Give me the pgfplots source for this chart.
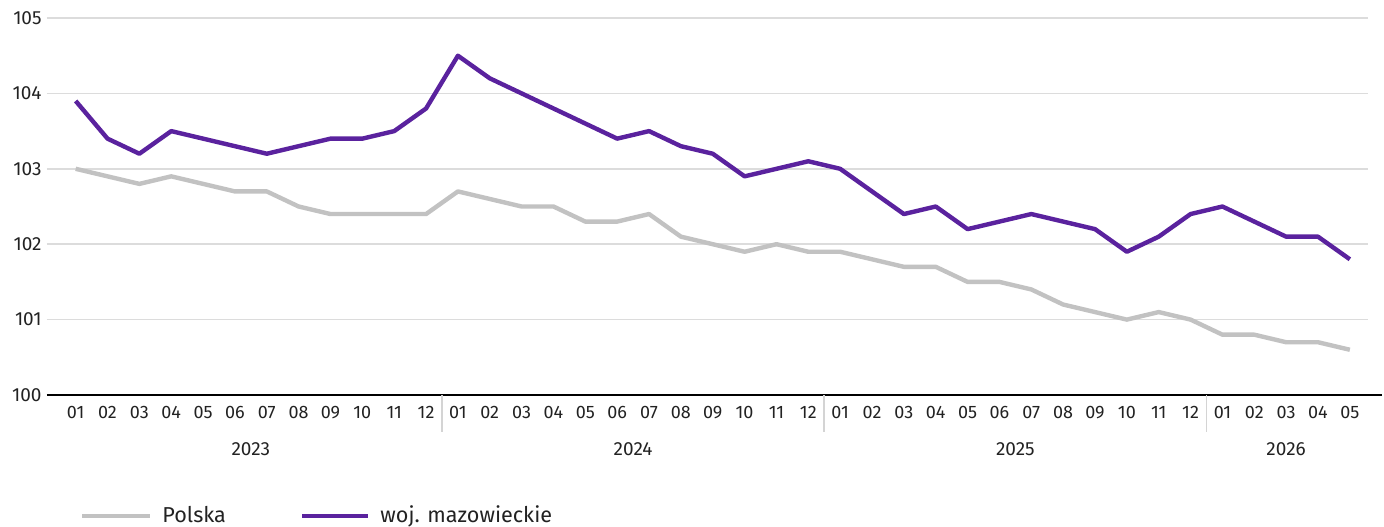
\documentclass[border=0pt]{standalone}
\usepackage{fontspec}
\setmainfont{Fira Sans}
\usepackage{pgfplots}
\usepackage{pgfplotstable}
\pgfplotsset{compat=1.18}
\definecolor{mazow}{HTML}{5A229E}
\definecolor{polska}{HTML}{C2C2C2}
\definecolor{gridc}{HTML}{DCDCDC}
\definecolor{sepc}{HTML}{D4D4D4}
\definecolor{txt}{HTML}{222222}

% idx 0 = 2023-01 ... 40 = 2026-05
\pgfplotstableread{
idx pl maz
0 103.0 103.9
1 102.9 103.4
2 102.8 103.2
3 102.9 103.5
4 102.8 103.4
5 102.7 103.3
6 102.7 103.2
7 102.5 103.3
8 102.4 103.4
9 102.4 103.4
10 102.4 103.5
11 102.4 103.8
12 102.7 104.5
13 102.6 104.2
14 102.5 104.0
15 102.5 103.8
16 102.3 103.6
17 102.3 103.4
18 102.4 103.5
19 102.1 103.3
20 102.0 103.2
21 101.9 102.9
22 102.0 103.0
23 101.9 103.1
24 101.9 103.0
25 101.8 102.7
26 101.7 102.4
27 101.7 102.5
28 101.5 102.2
29 101.5 102.3
30 101.4 102.4
31 101.2 102.3
32 101.1 102.2
33 101.0 101.9
34 101.1 102.1
35 101.0 102.4
36 100.8 102.5
37 100.8 102.3
38 100.7 102.1
39 100.7 102.1
40 100.6 101.8
}\datatable

\tikzset{yearlbl/.style={anchor=base, text=txt, font=\fontsize{9.5}{11}\selectfont, inner sep=0pt}}

\begin{document}
\begin{tikzpicture}[x=1pt,y=1pt]
\useasboundingbox (-23.5,-65.5) rectangle (668.5,197.5);
\begin{axis}[
  at={(0,0)}, anchor=south west,
  scale only axis,
  width=660.5pt, height=188.5pt,
  xmin=-0.9, xmax=40.57,
  ymin=100, ymax=105,
  ytick={100,...,105},
  xtick={0,...,40},
  xticklabels={01,02,03,04,05,06,07,08,09,10,11,12,
               01,02,03,04,05,06,07,08,09,10,11,12,
               01,02,03,04,05,06,07,08,09,10,11,12,
               01,02,03,04,05},
  /pgf/number format/assume math mode=true,
  axis line style={draw=none},
  major tick length=0pt,
  ymajorgrids,
  grid style={gridc, line width=0.8pt},
  tick label style={text=txt},
  xticklabel style={font=\fontsize{9}{11}\selectfont, anchor=base, yshift=-11.5pt},
  yticklabel style={font=\fontsize{9.5}{11}\selectfont, anchor=east, inner sep=0pt, xshift=-2.5pt},
  clip=false,
]
\addplot[polska, line width=2.2pt, line join=round] table[x=idx, y=pl] {\datatable};
\addplot[mazow, line width=2.2pt, line join=round] table[x=idx, y=maz] {\datatable};
% baseline
\draw[black, line width=1.4pt] (axis cs:-0.9,100) -- ([xshift=7pt]axis cs:40.57,100);
% year separators
\draw[sepc, line width=0.8pt] (axis cs:11.5,100) -- ([yshift=-18.5pt]axis cs:11.5,100);
\draw[sepc, line width=0.8pt] (axis cs:23.5,100) -- ([yshift=-18.5pt]axis cs:23.5,100);
\draw[sepc, line width=0.8pt] (axis cs:35.5,100) -- ([yshift=-18.5pt]axis cs:35.5,100);
% year labels
\node[yearlbl] at ([yshift=-30pt]axis cs:5.5,100) {2023};
\node[yearlbl] at ([yshift=-30pt]axis cs:17.5,100) {2024};
\node[yearlbl] at ([yshift=-30pt]axis cs:29.5,100) {2025};
\node[yearlbl] at ([yshift=-30pt]axis cs:38,100) {2026};
\end{axis}
% legend
\draw[polska, line width=2.2pt] (17.5,-60.5) -- (51.5,-60.5);
\node[anchor=base west, inner sep=0pt, text=txt, font=\fontsize{10.8}{12}\selectfont] at (57.5,-63.5) {Polska};
\draw[mazow, line width=2.2pt] (127.5,-60.5) -- (160.5,-60.5);
\node[anchor=base west, inner sep=0pt, text=txt, font=\fontsize{10.8}{12}\selectfont] at (166.5,-63.5) {woj. mazowieckie};
\end{tikzpicture}
\end{document}
